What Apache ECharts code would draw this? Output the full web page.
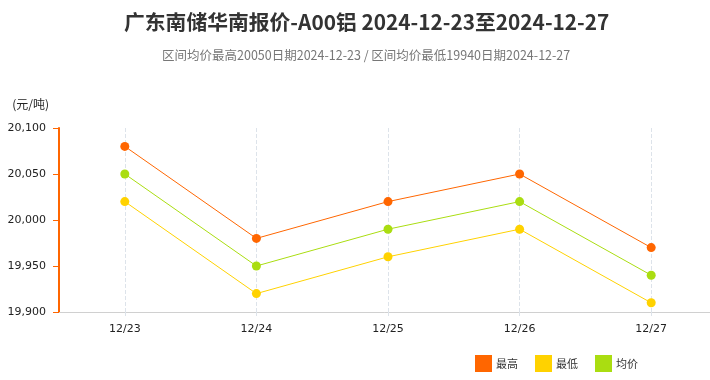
<!DOCTYPE html>
<html>
<head>
<meta charset="utf-8">
<script src="https://cdn.jsdelivr.net/npm/echarts@6/dist/echarts.min.js"></script>
<style>html,body{margin:0;padding:0;background:#fff}#c{width:710px;height:380px}</style>
</head>
<body>
<div id="c"></div>
<script>
var categories = ['12/23', '12/24', '12/25', '12/26', '12/27'];
var maxValues = [20080, 19980, 20020, 20050, 19970];
var minValues = [20020, 19920, 19960, 19990, 19910];
var avgValues = [20050, 19950, 19990, 20020, 19940];
var seriesNames = ['最高', '最低', '均价'];
var yTicks = { min: 19900, max: 20100, interval: 50 };

var colors = ['#ff6600', '#ffd200', '#aadd11'];
var chart = echarts.init(document.getElementById('c'));
function mk(name, data, color) {
  return {
    name: name, type: 'line', data: data,
    symbol: 'circle', symbolSize: 9,
    itemStyle: { color: color },
    lineStyle: { color: color, width: 1 }
  };
}
chart.setOption({
  animation: false,
  textStyle: { fontFamily: '"Noto Sans CJK SC", sans-serif' },
  title: [{
    text: '广东南储华南报价-A00铝 2024-12-23至2024-12-27',
    left: 119, top: 7,
    textStyle: { fontSize: 20.8, fontWeight: 'bold', color: '#333', fontFamily: '"Noto Sans CJK SC", sans-serif' }
  }, {
    text: '区间均价最高20050日期2024-12-23 / 区间均价最低19940日期2024-12-27',
    left: 157, top: 44,
    textStyle: { fontSize: 12.5, fontWeight: 'normal', color: '#777', fontFamily: '"Noto Sans CJK SC", sans-serif' }
  }],
  legend: {
    data: seriesNames,
    right: 67, bottom: 3,
    itemWidth: 17, itemHeight: 17, itemGap: 17,
    icon: 'rect',
    textStyle: { fontSize: 11, color: '#333', padding: [0, 0, 0, -1] }
  },
  grid: { left: 59, width: 658, top: 128, bottom: 68, outerBoundsMode: 'none', containLabel: false },
  xAxis: {
    type: 'category', data: categories, boundaryGap: true,
    axisLine: { lineStyle: { color: '#d0d0d0' } },
    axisTick: { show: true, alignWithLabel: true, length: 6, lineStyle: { color: '#dde3ea', type: 'dashed' } },
    axisLabel: { color: '#222', fontSize: 11, margin: 12, fontFamily: 'DejaVu Sans' },
    splitLine: { show: true, alignWithLabel: true, lineStyle: { color: '#dde3ea', type: 'dashed' } }
  },
  yAxis: {
    type: 'value', min: yTicks.min, max: yTicks.max, interval: yTicks.interval,
    name: '(元/吨)', nameLocation: 'end', nameGap: 18,
    nameTextStyle: { color: '#222', fontSize: 12, align: 'right', padding: [0, 10, 0, 0] },
    axisLine: { show: true, lineStyle: { color: '#ff6600', width: 2 } },
    axisTick: { show: true, length: 6, lineStyle: { color: '#ff6600' } },
    axisLabel: { color: '#222', fontSize: 11, margin: 13, fontFamily: 'DejaVu Sans',
      formatter: function (v) { return v.toLocaleString('en-US'); } },
    splitLine: { show: false }
  },
  series: [
    mk(seriesNames[0], maxValues, colors[0]),
    mk(seriesNames[1], minValues, colors[1]),
    mk(seriesNames[2], avgValues, colors[2])
  ]
});
</script>
</body>
</html>
